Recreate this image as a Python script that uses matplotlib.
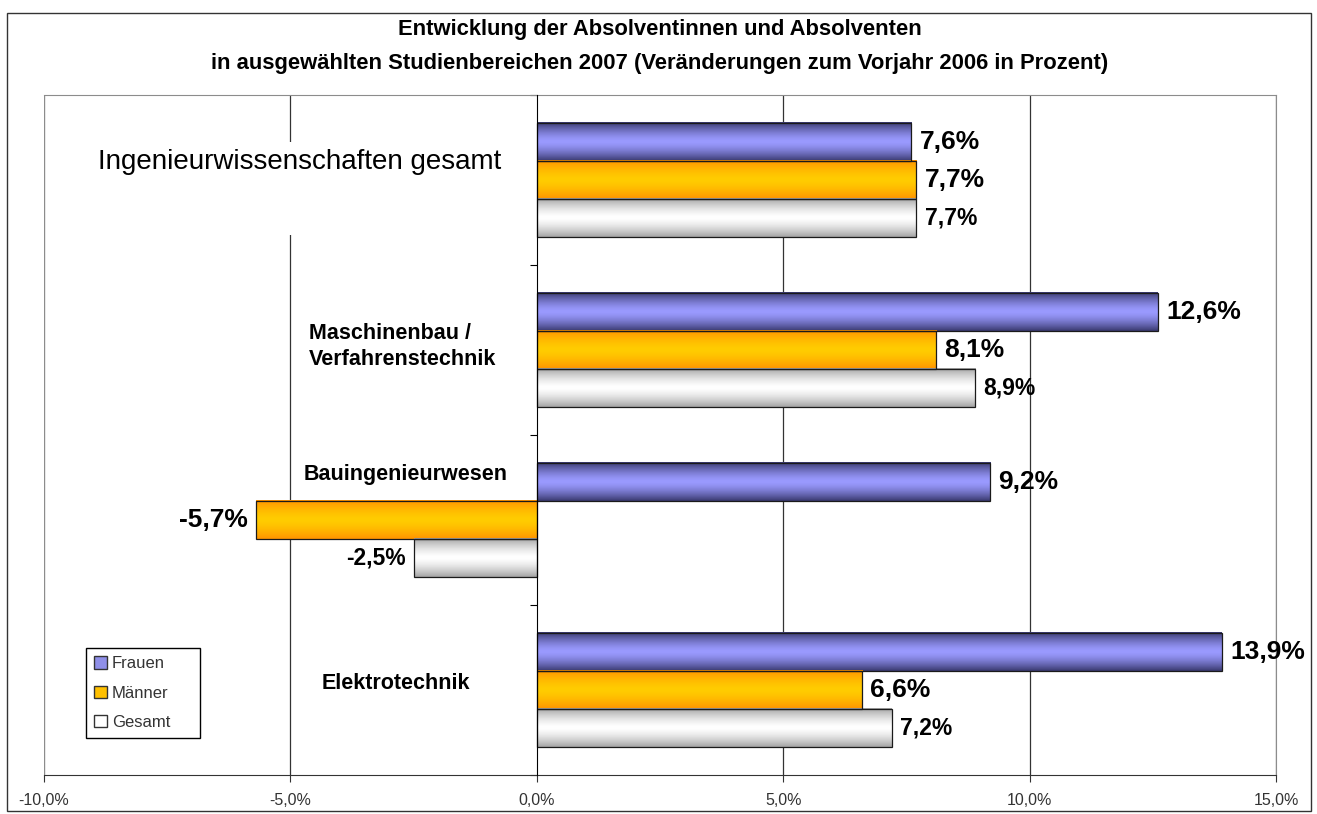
"""Absolventinnen/Absolventen 2007 - Veränderung zum Vorjahr (Balken mit Verlauf)."""

import numpy as np
import matplotlib

matplotlib.use("Agg")
import matplotlib.pyplot as plt
from matplotlib.colors import LinearSegmentedColormap
from matplotlib.patches import Patch, Rectangle

plt.rcParams["font.family"] = ["Liberation Sans", "DejaVu Sans"]

# --- Daten ---------------------------------------------------------------
categories = [
    "Ingenieurwissenschaften gesamt",
    "Maschinenbau /\nVerfahrenstechnik",
    "Bauingenieurwesen",
    "Elektrotechnik",
]
series = ["Frauen", "Männer", "Gesamt"]
frauen = [7.6, 12.6, 9.2, 13.9]
maenner = [7.7, 8.1, -5.7, 6.6]
gesamt = [7.7, 8.9, -2.5, 7.2]
xticks = [-10, -5, 0, 5, 10, 15]

values = [frauen, maenner, gesamt]

# Verlauf: Rand dunkel, Mitte hell (wie Excel "horizontal, von Mitte")
grad_edge = ["#3a3a70", "#ff9400", "#a4a4a4"]
grad_mid = ["#9a9aff", "#ffcc00", "#ffffff"]
legend_col = ["#8f8fe8", "#ffc000", "#ffffff"]
label_size = [19, 19, 16.5]

# Kategorie-Beschriftungen (Textfelder im Diagramm)
cat_x = [-8.9, -4.63, -4.74, -4.37]
cat_y = [-0.106, 0.98, 1.735, 2.96]
cat_size = [20, 15.5, 15.5, 15.5]
cat_weight = ["medium", "bold", "bold", "bold"]


def fmt(v):
    return f"{v:.1f}%".replace(".", ",")


fig = plt.figure(figsize=(13.17, 8.14), dpi=100)
ax = fig.add_axes([44 / 1317, 39 / 814, 1232 / 1317, 680 / 814])

# Rahmen um das ganze Diagramm
fig.patches.append(Rectangle((7 / 1317, 3 / 814), 1304 / 1317, 798 / 814,
                             transform=fig.transFigure, fill=False,
                             edgecolor="#333333", lw=1))

fig.text(0.501, 1 - 29 / 814, "Entwicklung der Absolventinnen und Absolventen",
         ha="center", va="center", fontsize=15.8, fontweight="bold")
fig.text(0.501, 1 - 63 / 814,
         "in ausgewählten Studienbereichen 2007 (Veränderungen zum Vorjahr 2006 in Prozent)",
         ha="center", va="center", fontsize=15.8, fontweight="bold")

h = 0.225
offsets = [-h, 0, h]
y_base = np.arange(len(categories))
grad = np.abs(np.linspace(-1, 1, 64)) ** 1.5
grad = grad.reshape(-1, 1)

for s, name in enumerate(series):
    cmap = LinearSegmentedColormap.from_list(name, [grad_mid[s], grad_edge[s]])
    ys = y_base + offsets[s]
    for yy, v in zip(ys, values[s]):
        ax.imshow(grad, cmap=cmap, vmin=0, vmax=1, aspect="auto",
                  extent=(0, v, yy + h / 2, yy - h / 2), zorder=2.5,
                  interpolation="bilinear")
        off = 6 if v >= 0 else -6
        ax.annotate(fmt(v), (v, yy), xytext=(off, 0), textcoords="offset points",
                    ha="left" if v >= 0 else "right", va="center",
                    fontsize=label_size[s], fontweight="bold", zorder=5)
    ax.barh(ys, values[s], height=h, facecolor="none", edgecolor="#1a1a1a",
            lw=0.9, zorder=3)

# Gitternetz und Rand
for t in xticks:
    if t in (xticks[0], xticks[-1]):
        ax.axvline(t, color="#8c8c8c", lw=1, zorder=1)
    elif t != 0:
        ax.axvline(t, color="#333333", lw=0.9, zorder=1)

# weißes Textfeld hinter "Ingenieurwissenschaften gesamt"
ax.add_patch(Rectangle((51 / 1232, 540 / 680), 415 / 1232, 93 / 680,
                       transform=ax.transAxes, facecolor="white",
                       edgecolor="none", zorder=1.5))

for lab, x, y, fs, fw in zip(categories, cat_x, cat_y, cat_size, cat_weight):
    ax.text(x, y, lab, ha="left", va="center", fontsize=fs, fontweight=fw,
            linespacing=1.35, zorder=4)

ax.set_xlim(xticks[0], xticks[-1])
ax.set_ylim(len(categories) - 0.5, -0.5)
ax.set_xticks(xticks)
ax.set_xticklabels([fmt(t) for t in xticks], fontsize=11.5, color="#333333")
ax.tick_params(axis="x", direction="out", length=5, pad=8, color="#333333")

ax.spines["left"].set_position(("data", 0))
ax.spines["left"].set_color("black")
ax.spines["left"].set_zorder(4)
ax.set_yticks(np.arange(len(categories) + 1) - 0.5)
ax.set_yticklabels([])
ax.tick_params(axis="y", direction="out", length=5, color="black")
ax.spines["bottom"].set_color("#333333")
ax.spines["top"].set_color("#8c8c8c")
ax.spines["right"].set_color("#8c8c8c")

handles = [Patch(facecolor=legend_col[i], edgecolor="#333333", label=series[i])
           for i in range(len(series))]
leg = ax.legend(handles=handles, loc="lower left",
                bbox_to_anchor=(42 / 1232, 37 / 680, 114 / 1232, 88 / 680),
                mode="expand", borderaxespad=0, fontsize=12,
                handlelength=0.75, handleheight=0.75,
                handletextpad=0.3, labelspacing=0.85, borderpad=0.5,
                fancybox=False, framealpha=1, edgecolor="black",
                labelcolor="#333333")
leg.get_frame().set_linewidth(1)
leg.set_zorder(6)

fig.savefig("out.png", dpi=100)
